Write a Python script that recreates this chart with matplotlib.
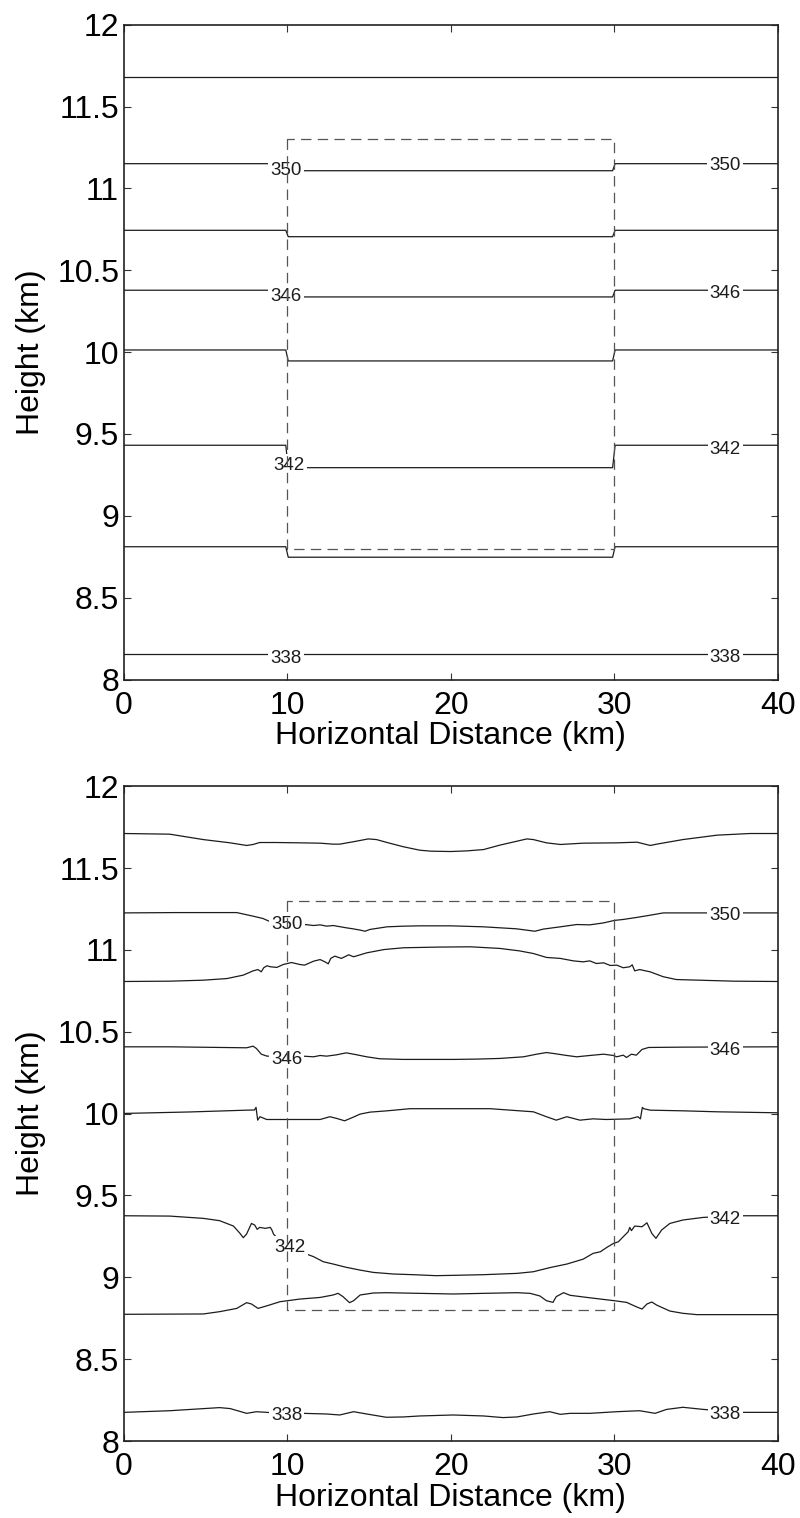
import matplotlib
matplotlib.use("Agg")
import matplotlib.pyplot as plt

plt.rcParams['font.family'] = ['Liberation Sans', 'DejaVu Sans']
plt.rcParams['lines.scale_dashes'] = False

# Isentrope values (K); every other one carries a label
theta = [338, 340, 342, 344, 346, 348, 350, 352]
labelled = [338, 342, 346, 350]

# ---- Initial state: flat isentropes, displaced inside the 10-30 km block ----
x_initial = [0, 9.9, 10.05, 29.9, 30.05, 40]
z_initial_outside = [8.154, 8.811, 9.431, 10.013, 10.378, 10.744, 11.151, 11.679]
z_initial_inside = [8.154, 8.747, 9.294, 9.946, 10.337, 10.705, 11.108, 11.679]

initial_label_x = {338: (9.92, 36.8), 342: (10.12, 36.8), 346: (9.92, 36.8), 350: (9.92, 36.8)}
initial_label_z = {338: (8.14, 8.145), 342: (9.322, 9.42), 346: (10.35, 10.372), 350: (11.12, 11.152)}

# ---- Later state: isentrope heights along the section ----
x338 = [0, 2.8, 5.85, 6.5, 7.5, 8.1, 9.05, 10.95, 12.4, 13.2, 14.05, 14.85, 16.05, 17.1,
        18.1, 20.15, 22.0, 23.2, 24.05, 25.05, 26.05, 26.7, 27.3, 28.5, 30.15, 31.55,
        32.5, 33.2, 34.2, 35.45, 37.7, 40]
z338 = [8.175, 8.185, 8.204, 8.198, 8.169, 8.179, 8.173, 8.169, 8.165, 8.159, 8.179, 8.165,
        8.145, 8.147, 8.153, 8.159, 8.153, 8.143, 8.147, 8.165, 8.179, 8.163, 8.169, 8.169,
        8.179, 8.185, 8.169, 8.193, 8.206, 8.193, 8.175, 8.175]

x340 = [0, 4.85, 5.85, 6.9, 7.5, 7.8, 8.2, 8.75, 9.55, 10.0, 10.75, 12.0, 12.8, 13.1, 13.4,
        13.8, 14.05, 14.45, 15.25, 16.05, 18.1, 20.15, 22.0, 24.05, 24.85, 25.45, 25.85,
        26.25, 26.45, 26.9, 27.3, 28.5, 30.0, 30.75, 31.35, 31.7, 32.0, 32.3, 32.6, 33.4,
        34.2, 35.05, 40]
z340 = [8.774, 8.776, 8.790, 8.810, 8.845, 8.837, 8.810, 8.826, 8.851, 8.857, 8.867, 8.877,
        8.892, 8.902, 8.882, 8.845, 8.857, 8.892, 8.904, 8.906, 8.902, 8.898, 8.902, 8.906,
        8.902, 8.886, 8.857, 8.847, 8.882, 8.906, 8.890, 8.875, 8.857, 8.847, 8.820, 8.806,
        8.837, 8.849, 8.830, 8.794, 8.780, 8.772, 8.772]

x342 = [0, 2.8, 4.85, 5.85, 6.7, 7.1, 7.3, 7.5, 7.8, 8.0, 8.15, 8.3, 8.65, 8.95, 9.05, 9.15,
        9.3, 10.95, 11.6, 12.2, 12.8, 13.6, 14.45, 15.25, 16.5, 17.7, 19.1, 20.15, 22.0,
        24.05, 25.05, 26.05, 27.1, 28.1, 28.7, 29.15, 29.55, 29.95, 30.25, 30.55, 30.85,
        30.95, 31.05, 31.25, 31.7, 32.0, 32.3, 32.55, 32.9, 33.4, 34.2, 35.45, 37.7, 40]
z342 = [9.376, 9.374, 9.360, 9.346, 9.313, 9.268, 9.242, 9.264, 9.329, 9.319, 9.293, 9.305,
        9.299, 9.305, 9.289, 9.264, 9.248, 9.150, 9.126, 9.095, 9.081, 9.061, 9.044, 9.030,
        9.020, 9.016, 9.010, 9.012, 9.016, 9.024, 9.034, 9.059, 9.081, 9.111, 9.146, 9.156,
        9.183, 9.207, 9.217, 9.248, 9.278, 9.305, 9.285, 9.313, 9.309, 9.333, 9.268, 9.238,
        9.289, 9.329, 9.350, 9.366, 9.376, 9.376]

x344 = [0, 4.0, 7.5, 7.98, 8.08, 8.18, 8.32, 8.73, 9.95, 12.0, 12.6, 13.0, 13.5, 14.0, 14.45,
        15.05, 16.1, 17.5, 22.4, 25.05, 25.85, 26.45, 27.1, 27.9, 28.7, 29.5, 30.95, 31.45,
        31.6, 31.72, 31.8, 32.2, 34.2, 36.3, 40]
z344 = [10.001, 10.010, 10.021, 10.022, 10.038, 9.960, 9.981, 9.964, 9.964, 9.964, 9.981,
        9.971, 9.956, 9.977, 9.997, 10.009, 10.017, 10.030, 10.030, 10.011, 9.981, 9.960,
        9.981, 9.960, 9.968, 9.964, 9.968, 9.981, 9.968, 10.038, 10.030, 10.021, 10.017,
        10.011, 10.005]

x346 = [0, 2.8, 7.5, 7.9, 8.1, 8.4, 8.75, 10.95, 11.6, 12.0, 12.4, 13.0, 13.6, 14.05, 14.85,
        15.65, 17.1, 20.15, 21.6, 23.0, 24.45, 25.25, 25.85, 26.3, 27.1, 27.7, 28.5, 29.35,
        29.95, 30.15, 30.55, 30.75, 31.05, 31.35, 31.7, 32.1, 34.2, 40]
z346 = [10.408, 10.408, 10.402, 10.412, 10.398, 10.363, 10.351, 10.351, 10.347, 10.355,
        10.351, 10.359, 10.371, 10.363, 10.347, 10.335, 10.331, 10.331, 10.333, 10.337,
        10.347, 10.363, 10.373, 10.367, 10.355, 10.347, 10.355, 10.363, 10.355, 10.347,
        10.357, 10.343, 10.363, 10.357, 10.392, 10.404, 10.406, 10.408]

x348 = [0, 2.8, 4.85, 6.3, 7.3, 7.9, 8.2, 8.4, 8.55, 8.75, 8.95, 9.35, 9.75, 10.25, 10.75,
        11.05, 11.6, 12.0, 12.3, 12.5, 12.65, 12.9, 13.3, 13.75, 14.05, 14.85, 15.9, 17.1,
        19.1, 21.2, 23.0, 24.2, 25.05, 25.85, 26.7, 27.5, 28.1, 28.5, 28.9, 29.35, 29.75,
        30.15, 30.55, 30.95, 31.1, 31.25, 31.55, 32.2, 33.0, 33.8, 35.2, 37.3, 40]
z348 = [10.807, 10.809, 10.815, 10.825, 10.846, 10.872, 10.880, 10.866, 10.891, 10.903,
        10.897, 10.893, 10.911, 10.923, 10.911, 10.907, 10.931, 10.941, 10.927, 10.915,
        10.948, 10.962, 10.948, 10.970, 10.958, 10.982, 11.002, 11.013, 11.017, 11.019,
        11.009, 10.994, 10.978, 10.954, 10.948, 10.933, 10.927, 10.933, 10.917, 10.921,
        10.905, 10.907, 10.891, 10.897, 10.909, 10.872, 10.880, 10.866, 10.836, 10.819,
        10.815, 10.809, 10.807]

x350 = [0, 3.2, 6.9, 7.9, 8.5, 9.0, 10.9, 11.6, 12.0, 12.4, 12.8, 13.6, 14.0, 14.45, 14.75,
        15.05, 16.1, 17.1, 18.1, 20.0, 22.0, 24.0, 25.15, 25.65, 26.7, 27.7, 28.5, 29.35,
        30.0, 30.55, 31.35, 32.2, 33.0, 40]
z350 = [11.226, 11.228, 11.228, 11.206, 11.192, 11.170, 11.157, 11.149, 11.153, 11.145,
        11.149, 11.135, 11.129, 11.121, 11.114, 11.125, 11.141, 11.145, 11.147, 11.147,
        11.141, 11.129, 11.114, 11.127, 11.141, 11.155, 11.153, 11.165, 11.180, 11.186,
        11.198, 11.212, 11.226, 11.226]

x352 = [0, 2.8, 4.85, 6.5, 7.5, 7.9, 8.3, 9.3, 10.8, 12.0, 12.8, 13.2, 14.0, 14.95, 15.45,
        16.1, 17.1, 18.1, 18.8, 20.0, 21.0, 22.0, 23.0, 24.65, 25.05, 25.85, 26.7, 28.1,
        30.15, 31.4, 32.2, 32.6, 34.2, 36.3, 38.3, 40]
z352 = [11.711, 11.707, 11.674, 11.654, 11.638, 11.644, 11.656, 11.656, 11.654, 11.652,
        11.646, 11.646, 11.660, 11.678, 11.674, 11.656, 11.630, 11.609, 11.603, 11.601,
        11.605, 11.613, 11.640, 11.678, 11.674, 11.654, 11.644, 11.652, 11.654, 11.658,
        11.638, 11.646, 11.674, 11.701, 11.711, 11.711]

later_x = [x338, x340, x342, x344, x346, x348, x350, x352]
later_z = [z338, z340, z342, z344, z346, z348, z350, z352]

later_label_x = {338: (9.95, 36.8), 342: (10.15, 36.8), 346: (9.95, 36.8), 350: (9.95, 36.8)}
later_label_z = {338: (8.165, 8.176), 342: (9.197, 9.368), 346: (10.341, 10.398), 350: (11.165, 11.222)}

# Dashed outline of the heating region
box_x = [10, 30]
box_z = [8.8, 11.3]

x_ticks = [0, 10, 20, 30, 40]
z_ticks = [8, 8.5, 9, 9.5, 10, 10.5, 11, 11.5, 12]

LINE_COLOR = '#1c1c1c'
TICK_SIZE = 23
LABEL_SIZE = 13.5

fig = plt.figure(figsize=(8.0, 15.18), dpi=100)
ax_top = fig.add_axes([0.155, 0.55237, 0.8171, 0.43136])
ax_bot = fig.add_axes([0.155, 0.05072, 0.8171, 0.43136])


def draw_box(ax):
    x0, x1 = box_x
    z0, z1 = box_z
    ax.plot([x0, x0, x1, x1, x0], [z1, z0, z0, z1, z1], color='#555555', lw=0.9,
            dashes=(7.5, 4.5), zorder=4)


def label_lines(ax, xs, zs):
    for th in labelled:
        for xl, zl in zip(xs[th], zs[th]):
            ax.text(xl, zl, str(th), ha='center', va='center_baseline', fontsize=LABEL_SIZE,
                    color='#1c1c1c', zorder=3,
                    bbox=dict(boxstyle='square,pad=0.12', fc='white', ec='none'))


def style_axes(ax):
    ax.set_xlim(0, 40)
    ax.set_ylim(8, 12)
    ax.set_xticks(x_ticks)
    ax.set_yticks(z_ticks)
    ax.set_xticklabels([f'{v:g}' for v in x_ticks])
    ax.set_yticklabels([f'{v:g}' for v in z_ticks])
    ax.tick_params(direction='in', length=5, width=0.8, top=True, right=True,
                   labelsize=TICK_SIZE, color='#333333')
    ax.tick_params(axis='x', pad=8)
    ax.tick_params(axis='y', pad=3.5)
    for sp in ax.spines.values():
        sp.set_linewidth(1.2)
        sp.set_color('#222222')
    ax.set_xlabel('Horizontal Distance (km)', fontsize=TICK_SIZE, labelpad=0.5)
    ax.set_ylabel('Height (km)', fontsize=TICK_SIZE)
    ax.yaxis.set_label_coords(-0.1193, 0.5)


# Initial isentropes
for zo, zi in zip(z_initial_outside, z_initial_inside):
    ax_top.plot(x_initial, [zo, zo, zi, zi, zo, zo], color=LINE_COLOR, lw=0.9, zorder=2)
draw_box(ax_top)
label_lines(ax_top, initial_label_x, initial_label_z)
style_axes(ax_top)

# Later isentropes
for xs, zs in zip(later_x, later_z):
    ax_bot.plot(xs, zs, color=LINE_COLOR, lw=0.9, zorder=2)
draw_box(ax_bot)
label_lines(ax_bot, later_label_x, later_label_z)
style_axes(ax_bot)

fig.savefig('out.png', dpi=100, facecolor='white')
